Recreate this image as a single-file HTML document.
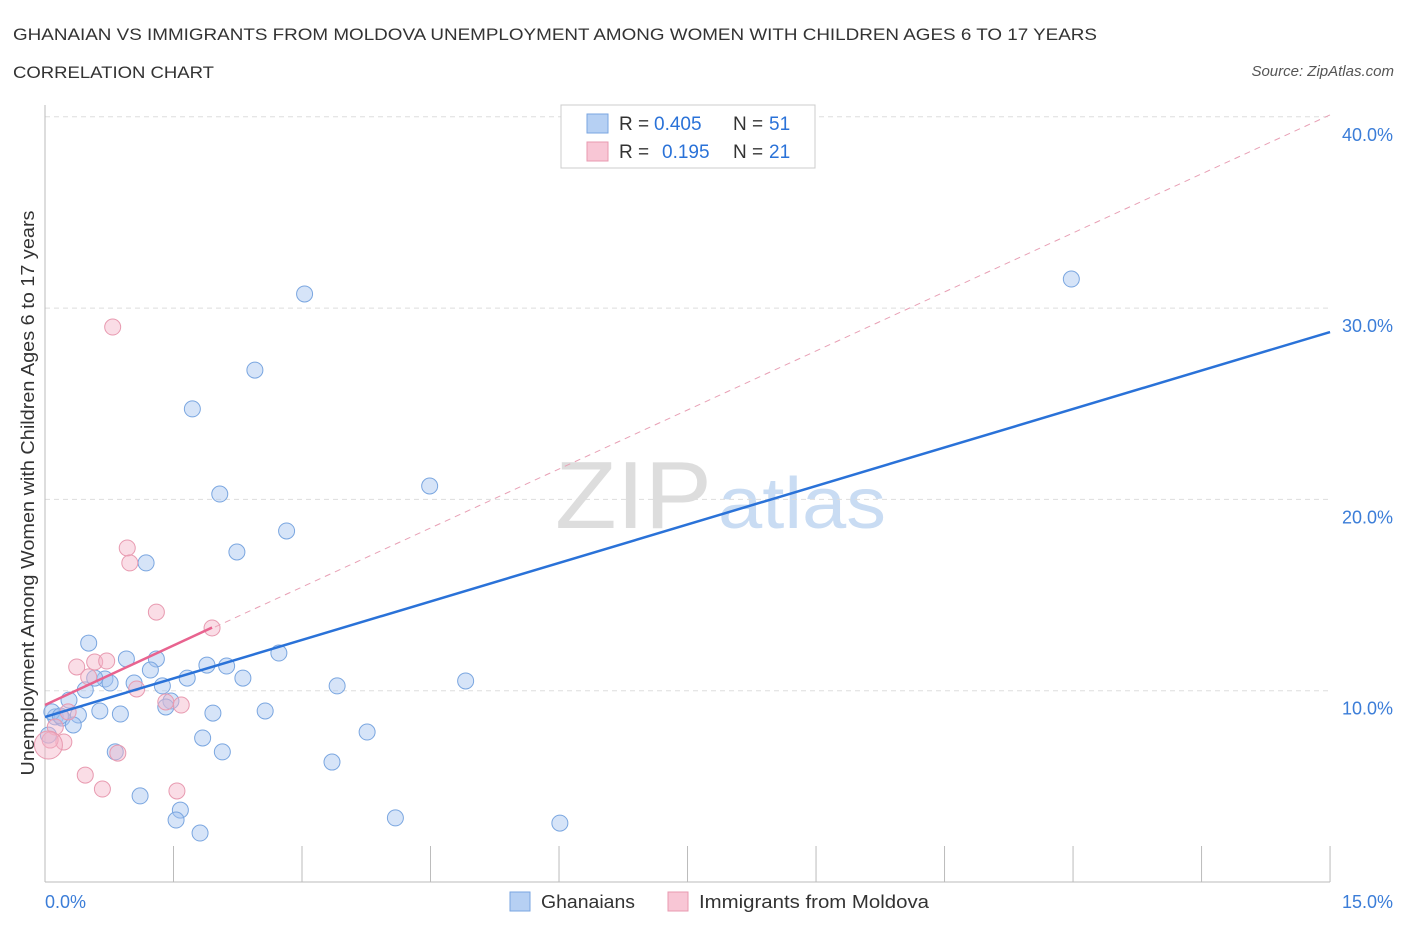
<!DOCTYPE html>
<html><head><meta charset="utf-8"><style>
body{margin:0;background:#fff;font-family:"Liberation Sans",sans-serif;}
svg text{font-family:"Liberation Sans",sans-serif;}
</style></head><body>
<svg id="chart" width="1406" height="930" xmlns="http://www.w3.org/2000/svg">
<text x="13" y="40" font-size="17" fill="#333" textLength="1084" lengthAdjust="spacingAndGlyphs">GHANAIAN VS IMMIGRANTS FROM MOLDOVA UNEMPLOYMENT AMONG WOMEN WITH CHILDREN AGES 6 TO 17 YEARS</text>
<text x="13" y="78" font-size="17" fill="#333" textLength="201" lengthAdjust="spacingAndGlyphs">CORRELATION CHART</text>
<text x="1394" y="76" font-size="15" fill="#555" text-anchor="end" font-style="italic">Source: ZipAtlas.com</text>
<text x="555" y="528" font-size="96" fill="#ddd" font-family="Liberation Serif" textLength="157" lengthAdjust="spacingAndGlyphs">ZIP</text>
<text x="718" y="528" font-size="72" fill="#c9dcf3" textLength="168" lengthAdjust="spacingAndGlyphs">atlas</text>
<text transform="translate(34,493) rotate(-90)" font-size="18" fill="#333" text-anchor="middle" textLength="565" lengthAdjust="spacingAndGlyphs">Unemployment Among Women with Children Ages 6 to 17 years</text>
<g id="grid"></g><g id="axes"></g><g id="lines"></g><g id="points"></g>
<g>
<rect x="561" y="105" width="254" height="63" fill="#fff" stroke="#ccc"/>
<rect x="587" y="114" width="21" height="19" fill="#b6d0f3" stroke="#7aa6e0"/>
<text x="619" y="130" font-size="19" fill="#333">R =</text>
<text x="654" y="130" font-size="19" fill="#2a72d8">0.405</text>
<text x="733" y="130" font-size="19" fill="#333">N =</text>
<text x="769" y="130" font-size="19" fill="#2a72d8">51</text>
<rect x="587" y="142" width="21" height="19" fill="#f8c6d5" stroke="#e89ab0"/>
<text x="619" y="158" font-size="19" fill="#333">R =</text>
<text x="662" y="158" font-size="19" fill="#2a72d8">0.195</text>
<text x="733" y="158" font-size="19" fill="#333">N =</text>
<text x="769" y="158" font-size="19" fill="#2a72d8">21</text>
</g>
<g>
<rect x="510" y="892" width="20" height="19" fill="#b6d0f3" stroke="#7aa6e0"/>
<text x="541" y="908" font-size="18" fill="#333" textLength="94" lengthAdjust="spacingAndGlyphs">Ghanaians</text>
<rect x="668" y="892" width="20" height="19" fill="#f8c6d5" stroke="#e89ab0"/>
<text x="699" y="908" font-size="18" fill="#333" textLength="230" lengthAdjust="spacingAndGlyphs">Immigrants from Moldova</text>
</g>
</svg>
<script>
const xTicks=[0,1.5,3,4.5,6,7.5,9,10.5,12,13.5,15];
const yTicks=[10,20,30,40];
const yTickLabels=["10.0%","20.0%","30.0%","40.0%"];
const blueX=[3.03,11.98,2.45,1.72,2.04,4.49,2.82,2.24,1.18,0.51,0.95,1.30,2.73,1.89,2.12,1.66,2.31,0.70,1.04,0.76,1.37,3.41,4.91,0.47,0.28,1.47,1.41,0.64,0.88,1.96,2.57,0.39,0.12,0.20,0.33,0.08,1.84,3.76,0.82,2.07,3.35,1.11,1.58,1.53,4.09,6.01,1.81,0.58,1.23,0.18,0.04];
const blueY=[30.74,31.52,26.76,24.73,20.28,20.70,18.35,17.25,16.68,12.49,11.66,11.66,11.97,11.34,11.29,10.66,10.66,10.61,10.40,10.40,10.25,10.25,10.51,10.04,9.51,9.46,9.15,8.94,8.78,8.83,8.94,8.73,8.63,8.57,8.21,8.89,7.53,7.84,6.80,6.80,6.27,4.50,3.76,3.24,3.35,3.08,2.56,10.66,11.08,8.68,7.68];
const pinkX=[0.79,0.96,0.99,1.30,1.95,0.37,0.58,0.72,0.51,1.07,1.41,1.59,0.27,0.12,0.22,0.06,0.85,0.47,0.67,1.54,0.04];
const pinkY=[29.01,17.46,16.68,14.11,13.28,11.24,11.50,11.55,10.72,10.09,9.41,9.25,8.89,8.10,7.32,7.42,6.74,5.59,4.86,4.76,7.16];
const blueTrend=[8.63,28.75];
const pinkTrend=[9.25,13.3];
const pinkDash=[9.25,40.1];
const X=v=>45+v*85.67, Y=v=>882-v*19.13;
const NS="http://www.w3.org/2000/svg";
function mk(p,t,a){const e=document.createElementNS(NS,t);for(const k in a)e.setAttribute(k,a[k]);document.getElementById(p).appendChild(e);return e;}
yTicks.forEach((t,i)=>{
 const g=mk('grid','line',{x1:45,x2:1330,y1:Y(t),y2:Y(t),stroke:'#ddd','stroke-dasharray':'5,4'});
 
 
 const l=mk('axes','text',{x:1393,y:Y(t)+24,'font-size':18,fill:'#3b7dd8','text-anchor':'end'});l.textContent=yTickLabels[i];
 
 
});
const ax=mk('axes','line',{x1:45,x2:1330,y1:882,y2:882,stroke:'#bbb'});


const ay=mk('axes','line',{x1:45,x2:45,y1:105,y2:882,stroke:'#bbb'});


xTicks.forEach(t=>{const e=mk('axes','line',{x1:X(t),x2:X(t),y1:846,y2:882,stroke:'#bbb'});
 
 });
const x0=mk('axes','text',{x:45,y:908,'font-size':18,fill:'#3b7dd8'});x0.textContent='0.0%';


const x1=mk('axes','text',{x:1393,y:908,'font-size':18,fill:'#3b7dd8','text-anchor':'end'});x1.textContent='15.0%';


const pd=mk('lines','line',{x1:X(0),y1:Y(pinkDash[0]),x2:X(15),y2:Y(pinkDash[1]),stroke:'#e8a0b5','stroke-dasharray':'6,5','stroke-width':1});


blueX.forEach((x,i)=>{const c=mk('points','circle',{cx:X(x),cy:Y(blueY[i]),r:8,fill:'rgba(164,196,240,0.45)',stroke:'#7aa6e0','stroke-width':1});
 
 });
pinkX.forEach((x,i)=>{const c=mk('points','circle',{cx:X(x),cy:Y(pinkY[i]),r:i==20?14:8,fill:'rgba(245,180,200,0.45)',stroke:'#e89ab0','stroke-width':1});
 
 });
const bl=mk('points','line',{x1:X(0),y1:Y(blueTrend[0]),x2:X(15),y2:Y(blueTrend[1]),stroke:'#2a72d8','stroke-width':2.5});


const pl=mk('points','line',{x1:X(0),y1:Y(pinkTrend[0]),x2:X(1.95),y2:Y(pinkTrend[1]),stroke:'#e8638f','stroke-width':2.5});


</script>
</body></html>
